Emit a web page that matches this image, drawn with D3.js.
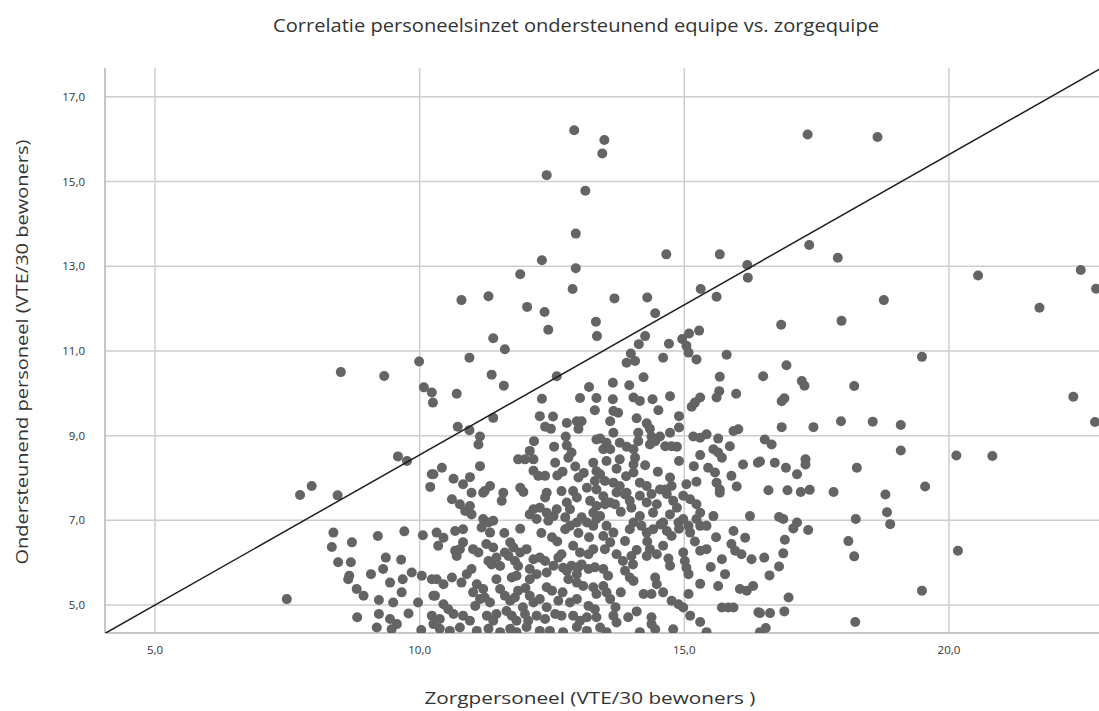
<!DOCTYPE html>
<html>
<head>
<meta charset="utf-8">
<script src="https://cdn.jsdelivr.net/npm/d3@7"></script>
<style>
  html, body { margin: 0; padding: 0; background: #fff; }
  text { font-family: "Open Sans", "Liberation Sans", sans-serif; fill: #333; }
</style>
</head>
<body>
<svg id="chart" width="1099" height="711"></svg>
<script>
// Zorgpersoneel (x) vs ondersteunend personeel (y), VTE per 30 bewoners
const titel = "Correlatie personeelsinzet ondersteunend equipe vs. zorgequipe";
const xTitel = "Zorgpersoneel (VTE/30 bewoners  )";
const yTitel = "Ondersteunend personeel (VTE/30 bewoners)";

const xTicks = [5, 10, 15, 20];
const yTicks = [5, 7, 9, 11, 13, 15, 17];
const xBereik = [4.055, 22.835];
const yBereik = [4.34, 17.68];

// reference line: y = a + b * x
const lijn = { a: 1.455, b: 0.709 };

// outlying points
const puntenBuiten = [
  [12.92,16.21],[13.49,15.98],[13.45,15.66],[12.40,15.15],[13.13,14.78],[12.95,13.77],
  [14.66,13.28],[15.67,13.28],[12.31,13.14],[12.95,12.95],[11.90,12.81],[16.19,13.03],
  [16.20,12.73],[12.89,12.46],[10.79,12.20],[11.30,12.29],[12.03,12.04],[12.36,11.92],
  [13.68,12.24],[14.30,12.26],[15.31,12.46],[15.61,12.28],[14.45,11.89],[13.33,11.69],
  [12.43,11.50],[11.39,11.30],[11.61,11.04],[13.35,11.35],[14.26,11.35],[14.14,11.16],
  [13.99,10.94],[14.71,11.17],[14.96,11.28],[15.09,11.41],[15.28,11.48],[15.04,11.12],
  [15.08,10.96],[15.80,10.91],[14.60,10.84],[10.94,10.84],
  [17.33,16.11],[18.65,16.05],[17.36,13.50],[17.90,13.20],[20.55,12.78],[22.49,12.91],
  [22.78,12.47],[21.71,12.02],[18.77,12.20],[16.83,11.62],[17.97,11.71],[19.49,10.86]
];

// right-hand part (x > 16)
const puntenRechts = [
  [16.93,10.66],[16.49,10.40],[17.22,10.29],[17.27,10.18],[18.21,10.17],[16.84,9.81],
  [16.89,9.88],[22.35,9.92],[22.76,9.32],[16.84,9.20],[17.44,9.20],[17.96,9.34],
  [18.56,9.33],[19.09,9.25],[16.52,8.91],[16.65,8.79],[19.09,8.65],[20.14,8.53],
  [20.82,8.52],[16.43,8.39],[16.71,8.36],[16.92,8.24],[17.29,8.44],[17.29,8.32],
  [17.13,8.09],[18.26,8.24],[16.59,7.71],[16.95,7.71],[17.20,7.67],[17.37,7.72],
  [17.82,7.67],[18.80,7.61],[19.55,7.80],[18.83,7.19],[18.89,6.91],[16.79,7.08],
  [16.87,7.03],[17.13,6.95],[17.06,6.81],[17.34,6.77],[18.24,7.03],[16.90,6.54],
  [18.10,6.51],[16.87,6.22],[18.21,6.15],[16.51,6.12],[16.79,5.91],[16.61,5.70],
  [20.17,6.28],[16.97,5.18],[19.49,5.34],[16.43,4.81],[16.62,4.81],[16.89,4.85],
  [16.54,4.46],[18.23,4.60]
];

// left-hand part (x < 10.3)
const puntenLinks = [
  [8.51,10.50],[9.33,10.41],[9.99,10.75],[10.08,10.14],[10.23,10.02],[10.25,9.78],
  [9.59,8.51],[9.76,8.40],[10.23,8.09],[10.20,7.79],[7.74,7.60],[7.96,7.81],
  [8.45,7.59],[7.49,5.14],[8.37,6.71],[8.72,6.48],[9.21,6.63],[9.71,6.74],
  [10.06,6.65],[8.34,6.37],[8.46,6.01],[8.70,6.01],[9.36,6.12],[9.65,6.07],
  [8.67,5.69],[8.65,5.61],[9.08,5.73],[9.31,5.85],[9.44,5.53],[9.68,5.61],
  [9.85,5.77],[10.04,5.69],[10.23,5.61],[8.81,5.38],[8.94,5.22],[9.23,5.12],
  [9.50,5.06],[9.66,5.30],[9.97,5.06],[10.26,5.22],[8.82,4.71],[9.23,4.79],
  [9.44,4.67],[9.79,4.80],[10.23,4.75],[9.19,4.47],[9.47,4.43],[9.57,4.55],
  [10.03,4.41],[10.26,4.55]
];

// central part, upper half (y > 7.6)
const puntenMidBoven = [
  [11.36,10.44],[11.59,10.18],[12.59,10.40],[10.70,9.99],[12.31,9.87],[13.03,9.89],
  [13.20,10.15],[13.34,9.89],[13.31,9.60],[11.39,9.42],[12.27,9.46],[12.52,9.45],
  [12.37,9.21],[12.48,9.16],[12.78,9.30],[12.97,9.34],[13.06,9.34],[13.00,9.16],
  [10.72,9.21],[10.94,9.13],[11.14,8.98],[11.11,8.79],[12.16,8.87],[12.76,8.98],
  [12.78,8.77],[12.54,8.74],[13.34,8.91],[11.86,8.44],[11.99,8.44],[12.08,8.64],
  [12.15,8.44],[12.56,8.36],[12.81,8.48],[12.87,8.60],[12.94,8.27],[13.28,8.36],
  [13.34,8.16],[11.14,8.28],[10.42,8.24],[10.26,8.09],[12.15,8.17],[12.24,8.05],
  [12.37,8.05],[12.60,8.06],[10.64,7.98],[10.82,7.85],[10.95,8.02],[11.33,7.81],
  [11.23,7.69],[11.90,7.77],[11.96,7.67],[13.00,8.01],[13.16,7.77],[13.31,7.93],
  [13.34,7.73],[12.68,7.69],[12.90,7.69],[10.98,7.65],[11.58,7.65],
  [13.91,10.72],[14.07,10.76],[15.23,10.80],[14.23,10.38],[13.65,10.25],[13.96,10.19],
  [15.67,10.39],[15.66,10.05],[15.61,9.90],[15.98,9.99],[15.30,9.90],[15.20,9.78],
  [15.14,9.68],[13.65,9.86],[14.04,9.90],[14.16,9.82],[14.40,9.86],[14.73,9.93],
  [14.51,9.60],[13.66,9.58],[13.75,9.54],[13.60,9.34],[14.10,9.41],[14.90,9.46],
  [14.90,9.19],[14.29,9.29],[14.35,9.16],[13.66,9.07],[14.13,9.07],[14.73,9.07],
  [14.54,8.98],[14.38,8.98],[14.45,8.87],[13.41,8.93],[13.53,8.83],[13.78,8.83],
  [13.91,8.74],[14.13,8.87],[14.64,8.75],[14.76,8.75],[14.86,8.74],[14.35,8.79],
  [13.47,8.68],[13.60,8.68],[14.04,8.68],[15.17,8.98],[15.30,8.95],[15.42,9.03],
  [15.64,8.93],[15.93,9.11],[16.02,9.15],[15.86,8.75],[15.55,8.68],[15.64,8.60],
  [15.71,8.48],[15.30,8.54],[13.78,8.44],[13.53,8.40],[14.07,8.48],[14.04,8.32],
  [14.26,8.30],[15.18,8.28],[15.45,8.24],[15.58,8.13],[16.11,8.32],[16.39,8.36],
  [14.04,8.13],[13.41,8.09],[13.50,7.93],[15.89,8.05],[13.66,7.89],[13.78,7.81],
  [14.73,8.01],[14.76,7.81],[14.16,7.89],[14.29,7.81],[15.04,7.85],[15.23,7.91],
  [15.61,7.89],[15.67,7.73],[15.99,7.80],[14.54,7.73],[14.64,7.73],[13.91,7.65],
  [13.10,8.12],[13.72,8.22],[13.90,8.04],[14.50,8.15],[14.90,8.40],[12.70,8.15]
];

// central part, lower half (y <= 7.6)
const puntenMidOnder = [
  [10.61,7.50],[10.76,7.38],[10.86,7.22],[10.95,7.34],[10.98,7.14],[11.20,7.65],
  [11.55,7.46],[12.40,7.65],[12.37,7.54],[12.78,7.42],[12.84,7.26],[12.97,7.54],
  [13.22,7.46],[13.34,7.34],[13.28,7.18],[11.20,7.03],[11.30,6.95],[11.39,6.99],
  [11.17,6.83],[11.33,6.71],[12.08,7.14],[12.21,7.03],[12.15,7.26],[12.27,7.30],
  [12.40,7.18],[12.53,7.10],[12.59,7.26],[12.43,6.99],[12.75,7.07],[12.84,6.87],
  [12.75,6.79],[12.97,6.95],[13.06,7.07],[13.16,6.95],[13.28,6.87],[13.34,7.03],
  [10.32,6.71],[10.45,6.59],[10.35,6.40],[10.67,6.75],[10.82,6.79],[10.82,6.48],
  [10.76,6.32],[10.67,6.28],[10.70,6.16],[11.01,6.32],[11.11,6.24],[11.26,6.44],
  [11.39,6.36],[11.30,6.04],[11.36,5.96],[11.45,6.12],[11.52,5.92],[11.71,6.48],
  [11.77,6.36],[11.61,6.24],[11.68,6.16],[11.90,6.24],[12.02,6.32],[11.80,6.04],
  [11.86,5.92],[12.15,6.08],[12.27,6.12],[12.37,6.04],[12.08,5.85],[12.21,5.73],
  [12.08,5.61],[12.40,5.77],[12.53,5.93],[12.62,6.12],[12.68,6.20],[12.71,5.88],
  [12.78,5.81],[12.87,5.93],[12.97,5.73],[13.03,6.24],[13.19,6.20],[13.28,6.32],
  [13.06,5.96],[13.19,5.85],[13.31,5.89],[12.81,5.61],[12.97,5.53],[13.09,5.45],
  [10.32,5.61],[10.45,5.49],[10.61,5.65],[10.79,5.53],[10.89,5.73],[10.98,5.85],
  [11.08,5.49],[11.20,5.38],[11.45,5.61],[11.74,5.65],[11.83,5.69],[12.40,5.42],
  [12.50,5.34],[13.28,5.42],[13.34,5.26],[10.29,5.22],[11.01,5.30],[11.14,5.14],
  [11.23,5.18],[11.33,5.06],[11.52,5.38],[11.61,5.22],[11.71,5.10],[11.80,5.18],
  [11.86,5.34],[12.08,5.22],[12.15,5.06],[12.27,5.14],[12.62,5.10],[12.84,5.06],
  [12.97,5.14],[13.19,4.98],[13.31,4.90],[10.45,5.02],[10.54,4.90],[10.64,4.79],
  [10.38,4.67],[10.82,4.75],[10.95,4.63],[11.05,4.98],[11.27,4.75],[11.39,4.63],
  [11.45,4.79],[11.64,4.86],[11.74,4.75],[11.83,4.63],[11.99,4.79],[12.05,4.63],
  [12.21,4.75],[12.37,4.67],[12.56,4.79],[12.68,4.75],[12.90,4.75],[13.03,4.63],
  [13.16,4.71],[13.34,4.71],[10.38,4.44],[10.57,4.39],[10.76,4.47],[11.08,4.39],
  [11.30,4.44],[11.52,4.36],[11.71,4.44],[11.83,4.36],[12.02,4.48],[12.27,4.39],
  [12.46,4.39],[12.71,4.36],[12.97,4.48],[13.16,4.39],
  [13.47,7.57],[13.60,7.42],[13.72,7.66],[13.50,7.38],[13.69,7.38],[13.88,7.61],
  [13.97,7.46],[14.16,7.58],[14.29,7.42],[14.38,7.62],[14.48,7.38],[14.41,7.18],
  [14.67,7.62],[14.79,7.46],[14.86,7.30],[14.73,7.14],[14.98,7.58],[15.11,7.50],
  [15.23,7.38],[15.30,7.18],[14.16,7.10],[14.04,6.95],[13.97,6.79],[14.19,6.87],
  [14.29,6.71],[14.41,6.79],[14.60,6.95],[14.67,6.75],[14.76,6.63],[14.89,6.95],
  [14.98,7.03],[15.08,6.87],[15.11,6.71],[15.23,7.03],[15.30,6.87],[15.42,6.87],
  [15.55,7.10],[16.24,7.10],[15.67,7.65],[15.93,6.75],[16.15,6.59],[15.89,6.44],
  [15.96,6.28],[13.41,7.10],[13.53,6.87],[13.66,6.71],[13.47,6.63],[13.60,6.48],
  [13.50,6.32],[13.88,6.51],[13.72,6.20],[13.84,6.04],[14.00,6.16],[14.03,5.96],
  [14.35,6.32],[14.48,6.20],[14.29,6.16],[13.88,5.81],[13.97,5.65],[14.04,5.57],
  [13.47,5.85],[13.56,5.69],[14.45,5.65],[14.48,5.49],[14.73,5.93],[14.98,6.24],
  [15.01,6.04],[15.04,5.88],[15.08,5.73],[15.30,6.28],[15.42,6.32],[15.71,6.08],
  [15.77,5.73],[15.64,5.45],[16.05,5.38],[16.18,5.34],[16.30,5.45],[16.08,6.20],
  [16.27,6.08],[13.47,5.45],[13.53,5.30],[13.60,5.14],[14.23,5.26],[14.38,5.26],
  [15.08,5.26],[14.76,5.10],[14.89,5.02],[14.98,4.94],[15.11,4.75],[15.71,4.94],
  [15.83,4.94],[15.93,4.94],[16.40,4.83],[13.66,4.75],[13.72,4.59],[13.94,4.71],
  [14.38,4.71],[14.38,4.55],[14.45,4.43],[13.41,4.47],[13.53,4.36],[14.16,4.36],
  [14.79,4.43],[15.42,4.36],[16.43,4.36],
  [13.80,7.20],[14.00,7.30],[14.55,6.90],[14.90,6.80],[13.20,6.60],[12.60,6.50],
  [12.90,6.40],[13.00,6.70],[14.30,6.50],[14.60,6.40],[15.20,6.50],[15.60,6.60],
  [12.30,6.70],[12.50,6.60],[11.90,6.80],[11.60,6.70],[12.00,5.40],[12.70,5.30],
  [13.00,5.90],[14.10,6.30],[14.70,6.10],[15.50,5.90],[15.30,5.50],[14.60,5.30],
  [13.80,5.30],[12.40,4.95],[11.95,4.95],[13.70,4.95],[14.10,4.85],[15.30,4.60]
];

const punten = [].concat(puntenBuiten, puntenRechts, puntenLinks, puntenMidBoven, puntenMidOnder);

const svg = d3.select("#chart");
const plot = { left: 105, right: 1099, top: 68, bottom: 633 };

const x = d3.scaleLinear().domain(xBereik).range([plot.left, plot.right]);
const y = d3.scaleLinear().domain(yBereik).range([plot.bottom, plot.top]);
const fmt = v => d3.format(".1f")(v).replace(".", ",");

svg.append("defs").append("clipPath").attr("id", "plotClip")
  .append("rect")
  .attr("x", plot.left).attr("y", plot.top)
  .attr("width", plot.right - plot.left).attr("height", plot.bottom - plot.top);

// gridlines
const grid = svg.append("g");
grid.selectAll("line.gx").data(xTicks).join("line")
  .attr("x1", d => x(d)).attr("x2", d => x(d))
  .attr("y1", plot.top).attr("y2", plot.bottom)
  .attr("stroke", "#cdcdcd").attr("stroke-width", 1.5);
grid.selectAll("line.gy").data(yTicks).join("line")
  .attr("x1", plot.left).attr("x2", plot.right)
  .attr("y1", d => y(d)).attr("y2", d => y(d))
  .attr("stroke", "#cdcdcd").attr("stroke-width", 1.5);

// axis lines
svg.append("line").attr("x1", plot.left).attr("x2", plot.left)
  .attr("y1", plot.top).attr("y2", plot.bottom)
  .attr("stroke", "#b5b5b5").attr("stroke-width", 1.5);
svg.append("line").attr("x1", plot.left).attr("x2", plot.right)
  .attr("y1", plot.bottom).attr("y2", plot.bottom)
  .attr("stroke", "#b5b5b5").attr("stroke-width", 1.5);

// tick labels
svg.append("g").selectAll("text").data(xTicks).join("text")
  .attr("x", d => x(d)).attr("y", 654)
  .attr("text-anchor", "middle").attr("font-size", 11.5)
  .text(fmt);
svg.append("g").selectAll("text").data(yTicks).join("text")
  .attr("x", 85).attr("y", d => y(d) + 4)
  .attr("text-anchor", "end").attr("font-size", 11.5)
  .text(fmt);

// points
svg.append("g").attr("clip-path", "url(#plotClip)")
  .selectAll("circle").data(punten).join("circle")
  .attr("cx", d => x(d[0])).attr("cy", d => y(d[1]))
  .attr("r", 5)
  .attr("fill", "#646464");

// reference line
svg.append("line").attr("clip-path", "url(#plotClip)")
  .attr("x1", x(xBereik[0])).attr("y1", y(lijn.a + lijn.b * xBereik[0]))
  .attr("x2", x(xBereik[1])).attr("y2", y(lijn.a + lijn.b * xBereik[1]))
  .attr("stroke", "#1e1e1e").attr("stroke-width", 1.5);

// titles
svg.append("text").attr("x", 576).attr("y", 32)
  .attr("text-anchor", "middle").attr("font-size", 17.5)
  .attr("textLength", 606).attr("lengthAdjust", "spacingAndGlyphs")
  .text(titel);
svg.append("text").attr("x", 590).attr("y", 704)
  .attr("text-anchor", "middle").attr("font-size", 17)
  .attr("textLength", 331).attr("lengthAdjust", "spacingAndGlyphs")
  .text(xTitel);
svg.append("text")
  .attr("transform", "translate(28,352) rotate(-90)")
  .attr("text-anchor", "middle").attr("font-size", 17)
  .attr("textLength", 425).attr("lengthAdjust", "spacingAndGlyphs")
  .text(yTitel);
</script>
</body>
</html>
